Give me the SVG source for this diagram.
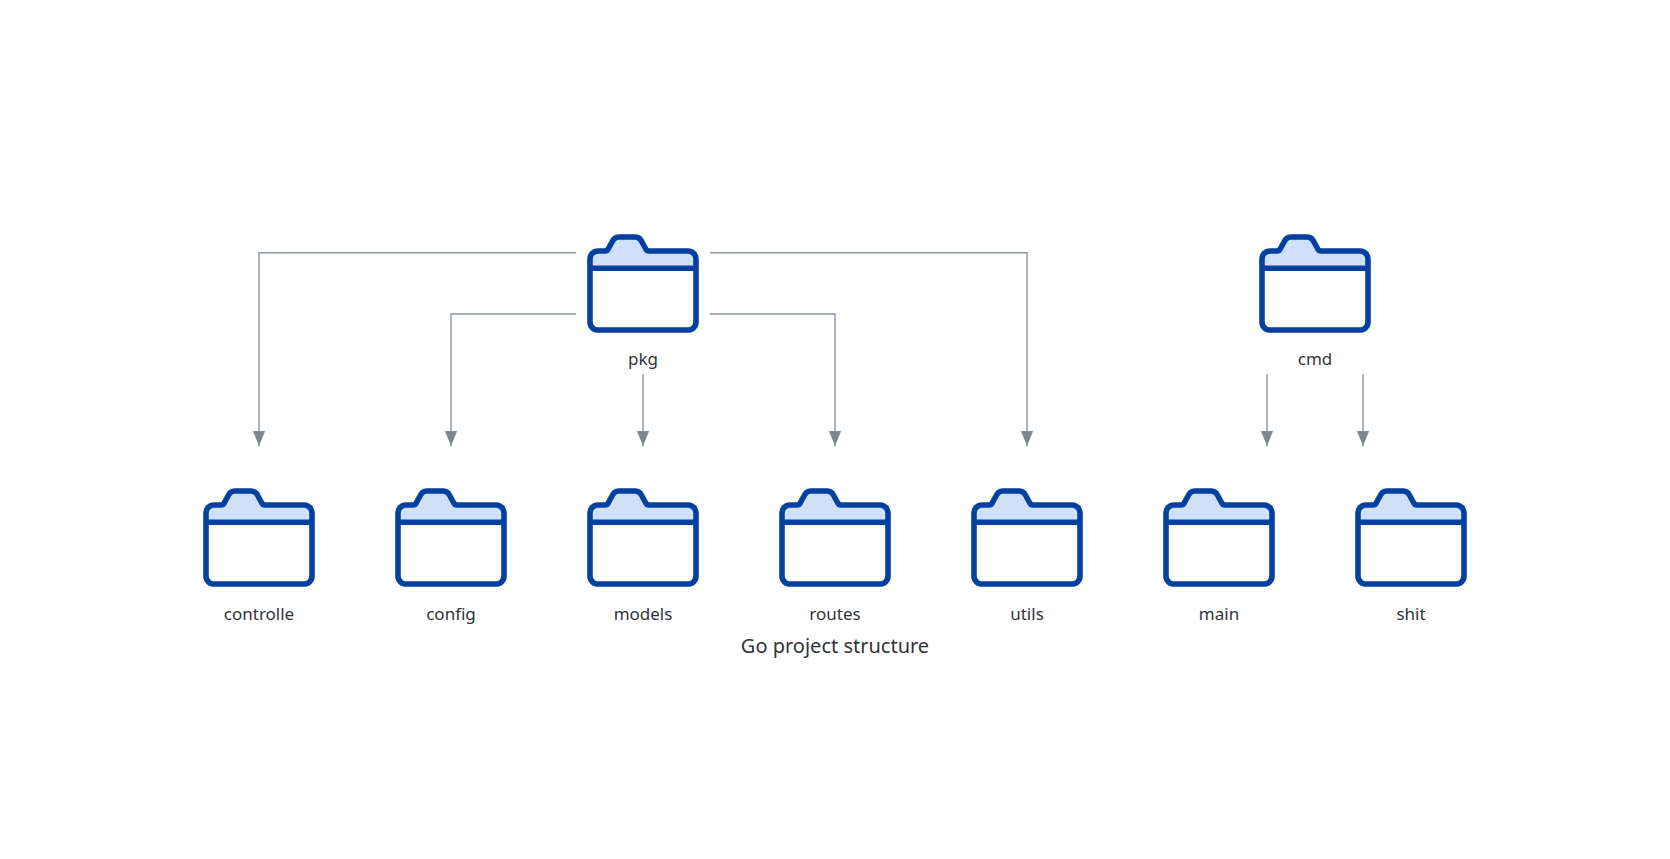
<svg xmlns="http://www.w3.org/2000/svg" width="1670" height="859" viewBox="0 0 1670 859">
<style>
text{font-family:"Noto Sans","Open Sans",sans-serif;fill:#30343a;text-anchor:middle}
.l{font-size:17px}
.t{font-size:20px}
.c{fill:none;stroke:#8a95a2;stroke-width:1.4}
.body{fill:none;stroke:#03409f;stroke-width:5.600;stroke-linejoin:round}
.tab{fill:#cfe0fa;stroke:none}
.line{fill:none;stroke:#03409f;stroke-width:5.600}
</style>
<defs>
<marker id="a" markerUnits="userSpaceOnUse" markerWidth="16" markerHeight="14" refX="15.500" refY="7" orient="auto" viewBox="0 0 16 14"><path d="M0 0.700V13.300L15.500 7Z" fill="#7c8898"/></marker>
<g id="folder">
<path class="tab" d="M-53 32V23a8 8 0 0 1 8-8H-38a3.500 3.500 0 0 0 3.200-2L-31 6a8 8 0 0 1 7-5H-8a8 8 0 0 1 7 5L2.800 13a3.500 3.500 0 0 0 3.200 2H45a8 8 0 0 1 8 8V32Z"/>
<path class="body" d="M-53 23a8 8 0 0 1 8-8H-38a3.500 3.500 0 0 0 3.200-2L-31 6a8 8 0 0 1 7-5H-8a8 8 0 0 1 7 5L2.800 13a3.500 3.500 0 0 0 3.200 2H45a8 8 0 0 1 8 8V86a8 8 0 0 1-8 8H-45a8 8 0 0 1-8-8Z"/>
<path class="line" d="M-53 32.300H53"/>
</g>
</defs>
<g id="connectors">
<path class="c" marker-end="url(#a)" d="M576 252.700H259V446"/>
<path class="c" marker-end="url(#a)" d="M576 314H451V446"/>
<path class="c" marker-end="url(#a)" d="M643 374V446"/>
<path class="c" marker-end="url(#a)" d="M710 314H835V446"/>
<path class="c" marker-end="url(#a)" d="M710 252.700H1027V446"/>
<path class="c" marker-end="url(#a)" d="M1267 374V446"/>
<path class="c" marker-end="url(#a)" d="M1363 374V446"/>
</g>
<g id="pkg" transform="translate(643,236)"><use href="#folder"/><text class="l" y="128.500">pkg</text></g>
<g id="cmd" transform="translate(1315,236)"><use href="#folder"/><text class="l" y="128.500">cmd</text></g>
<g id="controlle" transform="translate(259,490)"><use href="#folder"/><text class="l" y="129.500">controlle</text></g>
<g id="config" transform="translate(451,490)"><use href="#folder"/><text class="l" y="129.500">config</text></g>
<g id="models" transform="translate(643,490)"><use href="#folder"/><text class="l" y="129.500">models</text></g>
<g id="routes" transform="translate(835,490)"><use href="#folder"/><text class="l" y="129.500">routes</text></g>
<g id="utils" transform="translate(1027,490)"><use href="#folder"/><text class="l" y="129.500">utils</text></g>
<g id="main" transform="translate(1219,490)"><use href="#folder"/><text class="l" y="129.500">main</text></g>
<g id="shit" transform="translate(1411,490)"><use href="#folder"/><text class="l" y="129.500">shit</text></g>
<text class="t" x="835" y="652.500">Go project structure</text>
</svg>
